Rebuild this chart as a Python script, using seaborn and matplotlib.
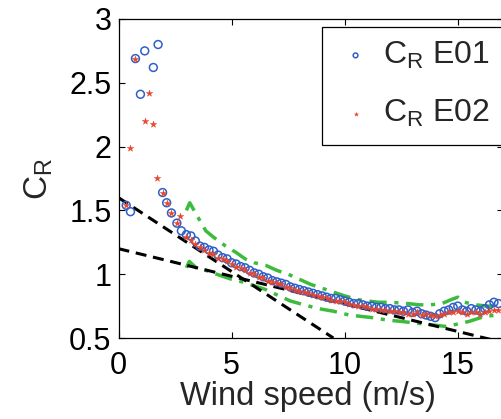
import matplotlib
matplotlib.use("Agg")
import matplotlib.pyplot as plt
from matplotlib.patches import Rectangle
import seaborn as sns
import pandas as pd

# ---------------- data ----------------
e01_x = [0.34, 0.53, 0.75, 0.97, 1.16, 1.54, 1.75, 1.95, 2.13, 2.34, 2.58, 2.78,
         3.0, 3.2, 3.4, 3.6, 3.8, 4.0, 4.2, 4.4, 4.6, 4.8, 5.0, 5.2, 5.4, 5.6, 5.8,
         6.0, 6.2, 6.4, 6.6, 6.8, 7.0, 7.2, 7.4, 7.6, 7.8, 8.0, 8.2, 8.4, 8.6, 8.8,
         9.0, 9.2, 9.4, 9.6, 9.8, 10.0, 10.2, 10.4, 10.6, 10.8, 11.0, 11.2, 11.4,
         11.6, 11.8, 12.0, 12.2, 12.4, 12.6, 12.8, 13.0, 13.2, 13.4, 13.6, 13.8,
         14.0, 14.2, 14.4, 14.6, 14.8, 15.0, 15.2, 15.4, 15.6, 15.8, 16.0, 16.2,
         16.4, 16.6, 16.8]
e01_y = [1.54, 1.49, 2.69, 2.41, 2.75, 2.62, 2.80, 1.64, 1.56, 1.48, 1.40, 1.34,
         1.31, 1.30, 1.26, 1.22, 1.21, 1.19, 1.18, 1.15, 1.13, 1.12, 1.09, 1.08,
         1.06, 1.05, 1.03, 1.01, 1.00, 0.98, 0.97, 0.95, 0.94, 0.93, 0.92, 0.90,
         0.89, 0.88, 0.87, 0.86, 0.85, 0.84, 0.83, 0.82, 0.81, 0.81, 0.80, 0.79,
         0.78, 0.77, 0.77, 0.76, 0.75, 0.75, 0.74, 0.74, 0.73, 0.73, 0.72, 0.72,
         0.71, 0.72, 0.70, 0.71, 0.69, 0.68, 0.67, 0.66, 0.69, 0.71, 0.72, 0.74,
         0.75, 0.72, 0.71, 0.73, 0.72, 0.71, 0.73, 0.76, 0.78, 0.77]

e02_x = [0.34, 0.53, 0.75, 1.15, 1.37, 1.53, 1.72, 1.95, 2.13, 2.34, 2.58, 2.74,
         3.0, 3.2, 3.4, 3.6, 3.8, 4.0, 4.2, 4.4, 4.6, 4.8, 5.0, 5.2, 5.4, 5.6, 5.8,
         6.0, 6.2, 6.4, 6.6, 6.8, 7.0, 7.2, 7.4, 7.6, 7.8, 8.0, 8.2, 8.4, 8.6, 8.8,
         9.0, 9.2, 9.4, 9.6, 9.8, 10.0, 10.2, 10.4, 10.6, 10.8, 11.0, 11.2, 11.4,
         11.6, 11.8, 12.0, 12.2, 12.4, 12.6, 12.8, 13.0, 13.2, 13.4, 13.6, 13.8,
         14.0, 14.2, 14.4, 14.6, 14.8, 15.0, 15.2, 15.4, 15.6, 15.8, 16.0, 16.2,
         16.4, 16.6, 16.8]
e02_y = [1.54, 1.99, 2.69, 2.20, 2.42, 2.18, 1.75, 1.64, 1.56, 1.48, 1.40, 1.46,
         1.29, 1.27, 1.24, 1.21, 1.19, 1.17, 1.16, 1.13, 1.12, 1.10, 1.08, 1.06,
         1.05, 1.03, 1.01, 1.00, 0.98, 0.97, 0.95, 0.94, 0.93, 0.92, 0.90, 0.89,
         0.88, 0.87, 0.86, 0.85, 0.84, 0.83, 0.82, 0.81, 0.80, 0.79, 0.79, 0.78,
         0.77, 0.76, 0.75, 0.75, 0.74, 0.73, 0.73, 0.72, 0.72, 0.71, 0.71, 0.70,
         0.70, 0.69, 0.69, 0.70, 0.68, 0.69, 0.68, 0.67, 0.68, 0.69, 0.70, 0.70,
         0.71, 0.70, 0.69, 0.70, 0.70, 0.69, 0.70, 0.71, 0.72, 0.72]

upper_x = [3.0, 3.15, 3.5, 3.86, 4.2, 4.74, 5.2, 5.6, 6.0, 6.5, 7.0, 7.5, 8.0,
           8.5, 9.0, 9.5, 10.0, 10.6, 11.0, 11.5, 12.0, 12.8, 13.3, 13.8, 14.3,
           14.7, 15.0, 15.3, 15.8, 16.3, 16.8]
upper_y = [1.50, 1.56, 1.45, 1.34, 1.29, 1.22, 1.17, 1.12, 1.09, 1.07, 1.03, 1.00,
           0.96, 0.92, 0.89, 0.86, 0.83, 0.80, 0.79, 0.78, 0.78, 0.77, 0.76, 0.76,
           0.77, 0.80, 0.82, 0.78, 0.76, 0.75, 0.75]
lower_x = [3.0, 3.13, 3.5, 3.86, 4.5, 5.0, 5.47, 6.0, 6.5, 7.1, 7.6, 8.2, 8.85,
           9.5, 10.2, 11.2, 11.9, 12.5, 13.0, 13.5, 14.0, 14.5, 15.0, 15.5, 16.2,
           16.8]
lower_y = [1.05, 1.10, 1.04, 1.03, 0.99, 0.96, 0.94, 0.91, 0.88, 0.83, 0.79, 0.76,
           0.73, 0.71, 0.68, 0.66, 0.64, 0.63, 0.62, 0.61, 0.60, 0.59, 0.61, 0.63,
           0.67, 0.68]

fit1_x = [0.0, 9.5]
fit1_y = [1.60, 0.50]
fit2_x = [0.0, 17.0]
fit2_y = [1.20, 0.465]

x_ticks = [0, 5, 10, 15]
y_ticks = [0.5, 1, 1.5, 2, 2.5, 3]
y_tick_labels = ["0.5", "1", "1.5", "2", "2.5", "3"]

# ---------------- style ----------------
sns.set_style("ticks")
plt.rcParams['font.family'] = ['Liberation Sans', 'DejaVu Sans']
plt.rcParams['mathtext.fontset'] = 'custom'
plt.rcParams['mathtext.rm'] = 'Liberation Sans'
plt.rcParams['mathtext.it'] = 'Liberation Sans'

BLUE = "#2f5fc8"
RED = "#e8452c"
GREEN = "#3cbc3c"

W, H = 501, 419
AX_L, AX_R = 118.5, 503.0
fig = plt.figure(figsize=(W / 100, H / 100), dpi=100)
ax = fig.add_axes([AX_L / W, 81 / H, (AX_R - AX_L) / W, 319 / H])

df_up = pd.DataFrame({"x": upper_x, "y": upper_y})
df_lo = pd.DataFrame({"x": lower_x, "y": lower_y})
for d in (df_up, df_lo):
    sns.lineplot(data=d, x="x", y="y", ax=ax, sort=False, estimator=None,
                 color=GREEN, lw=2.5, linestyle=(0, (5, 2.2, 1.2, 2.2)))

for fx, fy in ((fit1_x, fit1_y), (fit2_x, fit2_y)):
    sns.lineplot(x=fx, y=fy, ax=ax, sort=False, estimator=None,
                 color="black", lw=2.2, linestyle=(0, (3.6, 2.2)))

sns.scatterplot(x=e01_x, y=e01_y, ax=ax, marker="o", s=32, fc="none",
                ec=BLUE, linewidth=1.1, label=r"$\mathregular{C_R}$ E01", zorder=4)
sns.scatterplot(x=e02_x, y=e02_y, ax=ax, marker="*", s=24, color=RED,
                ec=RED, linewidth=0.3, label=r"$\mathregular{C_R}$ E02", zorder=5)

ax.set_xlim(0, 17)
ax.set_ylim(0.5, 3)
ax.set_xticks(x_ticks)
ax.set_xticklabels([str(t) for t in x_ticks])
ax.set_yticks(y_ticks)
ax.set_yticklabels(y_tick_labels)
ax.tick_params(direction="in", length=4, width=0.8, labelsize=22, colors="black",
               top=True, right=True)
ax.tick_params(axis="x", pad=9)
ax.tick_params(axis="y", pad=5)
for s in ax.spines.values():
    s.set_linewidth(0.9)
    s.set_color("black")

ax.set_xlabel("Wind speed (m/s)", fontsize=23.5)
ax.set_ylabel(r"$\mathregular{C_R}$", fontsize=24)
ax.xaxis.set_label_coords((307.5 - AX_L) / (AX_R - AX_L), -0.135)
ax.yaxis.set_label_coords(-0.165, 0.5)

# legend (frame drawn separately so that it runs off the right edge like the reference)
lx0 = (322 - AX_L) / (AX_R - AX_L)
ly1 = (338 - 27) / 319
leg = ax.legend(loc="upper left", bbox_to_anchor=(lx0, ly1),
                fontsize=23, frameon=False, borderpad=0.4, handlelength=1.3,
                handletextpad=0.2, labelspacing=0.85, markerscale=0.6,
                borderaxespad=0)
frame = Rectangle((322 / W, 1 - 145 / H), (530 - 322) / W, (145 - 27) / H,
                  transform=fig.transFigure, fill=True, fc="white", ec="black",
                  lw=0.9, zorder=6, clip_on=False)
ax.add_patch(frame)
leg.set_zorder(7)

fig.savefig("out.png", dpi=100)
